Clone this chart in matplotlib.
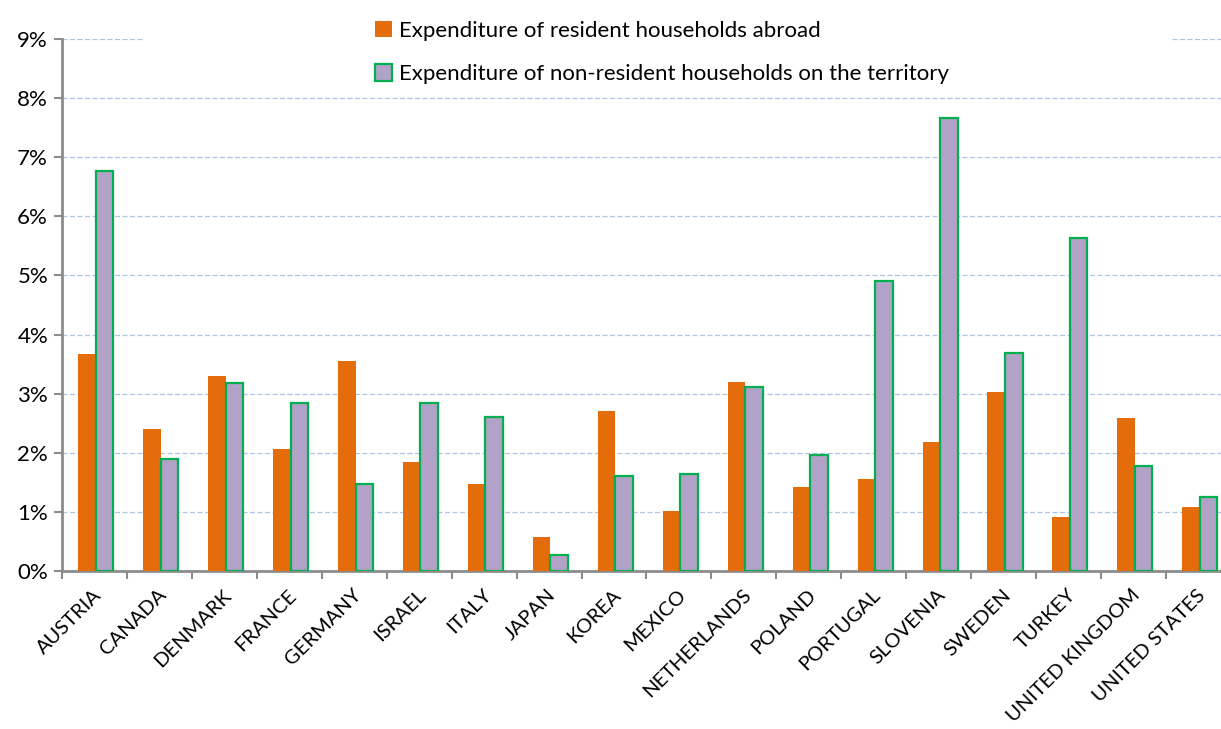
import matplotlib.pyplot as plt
import numpy as np
from matplotlib.patches import Rectangle
from matplotlib.ticker import FuncFormatter, MultipleLocator
from matplotlib.transforms import ScaledTranslation

plt.rcParams['font.family'] = ['Lato', 'DejaVu Sans']

countries = ["AUSTRIA", "CANADA", "DENMARK", "FRANCE", "GERMANY", "ISRAEL",
             "ITALY", "JAPAN", "KOREA", "MEXICO", "NETHERLANDS", "POLAND",
             "PORTUGAL", "SLOVENIA", "SWEDEN", "TURKEY", "UNITED KINGDOM",
             "UNITED STATES"]
residents_abroad = [3.67, 2.40, 3.30, 2.07, 3.56, 1.84, 1.47, 0.57, 2.70,
                    1.01, 3.20, 1.42, 1.55, 2.19, 3.03, 0.92, 2.59, 1.09]
nonresidents_here = [6.77, 1.90, 3.18, 2.85, 1.48, 2.85, 2.61, 0.27, 1.61,
                     1.64, 3.12, 1.96, 4.91, 7.66, 3.69, 5.64, 1.77, 1.25]

orange = "#E46C0A"
purple = "#B3A2C7"
green = "#00B050"
grey = "#8C8C8C"

fig = plt.figure(figsize=(12.21, 7.29), dpi=100)
ax = fig.add_axes([62/1221, 158/729, 1169/1221, 532/729])

x = np.arange(len(countries))
w = 0.27
b1 = ax.bar(x + 0.02 - w/2, residents_abroad, w, color=orange, zorder=3,
            label="Expenditure of resident households abroad")
b2 = ax.bar(x + 0.02 + w/2, nonresidents_here, w, color=purple, edgecolor=green,
            linewidth=1.6, zorder=3,
            label="Expenditure of non-resident households on the territory")

ax.set_xlim(-0.5, len(countries) - 0.5)
ax.set_ylim(0, 9)
ax.yaxis.set_major_locator(MultipleLocator(1))
ax.yaxis.set_major_formatter(FuncFormatter(lambda v, p: "%d%%" % v))
ax.grid(axis="y", color="#AFC4E4", linestyle=(0, (4, 2)), linewidth=0.9)

ax.set_xticks(np.arange(len(countries) + 1) - 0.5)
ax.set_xticklabels([])
ax.set_xticks(x, minor=True)
ax.set_xticklabels(countries, minor=True, rotation=45, ha="right", va="top",
                   rotation_mode="anchor", fontsize=14.5)
ax.tick_params(axis="x", which="minor", length=0, pad=11)
ax.tick_params(axis="x", which="major", length=6, width=1.5, color=grey)
ax.tick_params(axis="y", length=6, width=1.5, color=grey, labelsize=16, pad=4)

# nudge the country names a little to the left
shift = ScaledTranslation(-2/100, 0, fig.dpi_scale_trans)
for lbl in ax.get_xticklabels(minor=True):
    lbl.set_transform(lbl.get_transform() + shift)

for s in ["top", "right"]:
    ax.spines[s].set_visible(False)
for s in ["left", "bottom"]:
    ax.spines[s].set_color(grey)
    ax.spines[s].set_linewidth(2)

# white box behind the legend hides part of the top gridline
ax.add_patch(Rectangle(((145 - 62)/1169, 0.97), (1170 - 145)/1169, 0.06,
                       transform=ax.transAxes, facecolor="white", edgecolor="none",
                       zorder=2, clip_on=False))

leg = fig.legend(handles=[b1, b2], loc="upper left", bbox_to_anchor=(366/1221, 1 - 12/729),
                 frameon=False, fontsize=16, handlelength=0.75, handleheight=0.75,
                 handletextpad=0.35, labelspacing=1.05, borderaxespad=0)

fig.savefig("out.png", dpi=100)
